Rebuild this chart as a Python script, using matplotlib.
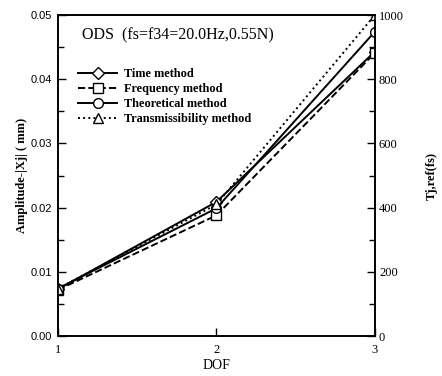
import matplotlib
matplotlib.use("Agg")
import matplotlib.pyplot as plt
from matplotlib.ticker import MultipleLocator, FixedLocator

dof = [1, 2, 3]
time_method = [0.0073, 0.0209, 0.0443]
freq_method = [0.0072, 0.0188, 0.0441]
theo_method = [0.0074, 0.0199, 0.0474]
trans_method = [148, 410, 1000]

x_ticks = [1, 2, 3]
left_ticks = [0.00, 0.01, 0.02, 0.03, 0.04, 0.05]
right_ticks = [0, 200, 400, 600, 800, 1000]

serif = "Liberation Serif"
plt.rcParams['font.family'] = serif

fig = plt.figure(figsize=(4.42, 3.76), dpi=100)
ax = fig.add_axes([0.131, 0.106, 0.717, 0.854])
ax2 = ax.twinx()

mk = dict(markersize=7, markerfacecolor='white', markeredgecolor='black', markeredgewidth=1.0, color='black')
l1, = ax.plot(dof, time_method, '-', marker='D', lw=1.4, label='Time method', **{**mk, 'markersize': 6})
l2, = ax.plot(dof, freq_method, '--', marker='s', lw=1.4, label='Frequency method', **mk)
l3, = ax.plot(dof, theo_method, '-', marker='o', lw=1.4, label='Theoretical method', **mk)
l4, = ax2.plot(dof, trans_method, ':', marker='^', lw=1.4, label='Transmissibility method', **mk)

ax.set_xlim(1, 3)
ax.set_ylim(0, 0.05)
ax2.set_ylim(0, 1000)
ax.xaxis.set_major_locator(FixedLocator(x_ticks))
ax.yaxis.set_major_locator(FixedLocator(left_ticks))
ax.yaxis.set_minor_locator(MultipleLocator(0.005))
ax2.yaxis.set_major_locator(FixedLocator(right_ticks))
ax2.yaxis.set_minor_locator(MultipleLocator(100))
ax.set_yticklabels(["%.2f" % v for v in left_ticks], fontfamily="Liberation Sans", fontsize=8)
ax2.set_yticklabels([str(v) for v in right_ticks], fontsize=9)
ax.set_xticklabels([str(v) for v in x_ticks], fontsize=9)

for a in (ax, ax2):
    a.tick_params(which='both', direction='in', width=1.0)
    a.tick_params(which='major', length=6)
    a.tick_params(which='minor', length=4)
ax.tick_params(axis='y', pad=4)
ax2.tick_params(axis='y', pad=3)
ax.tick_params(axis='x', pad=6)
for s in list(ax.spines.values()) + list(ax2.spines.values()):
    s.set_linewidth(1.2)

ax.set_xlabel("DOF", fontsize=10, labelpad=2)
ax.set_ylabel("Amplitude-|Xj| ( mm)", fontsize=9, fontweight='bold', labelpad=2)
ax2.set_ylabel("Tj,ref(fs)", fontsize=9, fontweight='bold', rotation=90, labelpad=16)

fig.text(82 / 442, 1 - 35 / 376, "ODS  (fs=f34=20.0Hz,0.55N)", fontsize=11.5,
         ha='left', va='center')

leg = ax.legend(handles=[l1, l2, l3, l4], loc='upper left', bbox_to_anchor=(0.048, 0.85),
                frameon=False,
                prop={'family': serif, 'weight': 'bold', 'size': 8.8},
                handlelength=3.2, handletextpad=0.6, labelspacing=0.25, borderaxespad=0)

fig.savefig("out.png", dpi=100)
